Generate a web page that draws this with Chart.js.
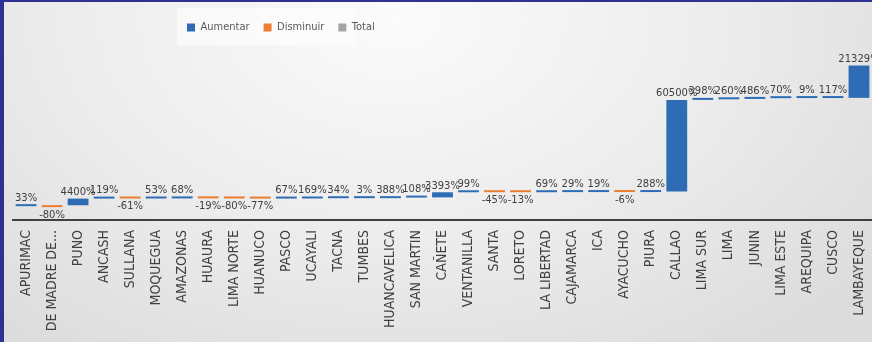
<!DOCTYPE html>
<html>
<head>
<meta charset="utf-8">
<script src="https://cdn.jsdelivr.net/npm/chart.js@4/dist/chart.umd.min.js"></script>
<style>
html, body { margin: 0; padding: 0; }
#wrap {
    position: relative; width: 872px; height: 342px; box-sizing: border-box;
    border-left: 4px solid #2e3192; border-top: 2px solid #2e3192;
    background: radial-gradient(ellipse 70% 120% at 45% 5%, #fbfbfb 0%, #ececec 55%, #dcdcdc 100%);
    overflow: hidden;
}
#wrap canvas { display: block; }
</style>
</head>
<body>
<div id="wrap"><canvas id="chart" width="868" height="340"></canvas></div>
<script>
// categorías (regiones)
const regions = ['APURIMAC', 'DE MADRE DE...', 'PUNO', 'ANCASH', 'SULLANA', 'MOQUEGUA', 'AMAZONAS',
    'HUAURA', 'LIMA NORTE', 'HUANUCO', 'PASCO', 'UCAYALI', 'TACNA', 'TUMBES', 'HUANCAVELICA',
    'SAN MARTIN', 'CAÑETE', 'VENTANILLA', 'SANTA', 'LORETO', 'LA LIBERTAD', 'CAJAMARCA', 'ICA',
    'AYACUCHO', 'PIURA', 'CALLAO', 'LIMA SUR', 'LIMA', 'JUNIN', 'LIMA ESTE', 'AREQUIPA', 'CUSCO',
    'LAMBAYEQUE'];

// variación de cada región (%)
const changes = [33, -80, 4400, 119, -61, 53, 68, -19, -80, -77, 67, 169, 34, 3, 388, 108,
    3393, 99, -45, -13, 69, 29, 19, -6, 288, 60500, 398, 260, 486, 70, 9, 117, 21329];

const legendNames = ['Aumentar', 'Disminuir', 'Total'];

const colorUp = '#2e6db5';
const colorDown = '#ed7d31';
const colorTotal = '#a5a5a5';

// barras flotantes de la cascada
const upData = [];
const downData = [];
const totalData = [];
let level = 0;
changes.forEach(function(v) {
    const start = level;
    level += v;
    if (v >= 0) {
        upData.push([start, level]);
        downData.push(null);
    } else {
        downData.push([start, level]);
        upData.push(null);
    }
    totalData.push(null);
});

// etiquetas de valor encima / debajo de cada barra
const valueLabels = {
    id: 'valueLabels',
    afterDatasetsDraw(chart) {
        const ctx = chart.ctx;
        ctx.save();
        ctx.font = '10px "DejaVu Sans"';
        ctx.fillStyle = '#404040';
        ctx.textAlign = 'center';
        [0, 1].forEach(function(di) {
            const meta = chart.getDatasetMeta(di);
            meta.data.forEach(function(bar, i) {
                if (!chart.data.datasets[di].data[i]) return;
                const text = changes[i] + '%';
                if (di === 0) {
                    ctx.textBaseline = 'bottom';
                    ctx.fillText(text, bar.x, Math.min(bar.y, bar.base) - 1);
                } else {
                    ctx.textBaseline = 'top';
                    ctx.fillText(text, bar.x, Math.max(bar.y, bar.base) + 3);
                }
            });
        });
        ctx.restore();
    }
};

// la leyenda va a la izquierda del centro, como en el original
const legendShift = {
    id: 'legendShift',
    afterLayout(chart) {
        const lg = chart.legend;
        lg.options.align = 'start';
        lg.left = 183 - lg.options.labels.padding;
    },
    beforeDraw(chart) {
        // fondo claro detrás de la leyenda
        const ctx = chart.ctx;
        ctx.save();
        ctx.fillStyle = 'rgba(255,255,255,0.55)';
        ctx.fillRect(173, 6, 178, 37);
        ctx.restore();
    }
};

const ctx = document.getElementById('chart').getContext('2d');
const chart = new Chart(ctx, {
    type: 'bar',
    data: {
        labels: regions,
        datasets: [
            { label: legendNames[0], data: upData, backgroundColor: colorUp },
            { label: legendNames[1], data: downData, backgroundColor: colorDown },
            { label: legendNames[2], data: totalData, backgroundColor: colorTotal }
        ]
    },
    options: {
        responsive: false,
        animation: false,
        layout: {
            padding: { left: 9, right: 0, top: 6, bottom: 0 }
        },
        datasets: {
            bar: {
                grouped: false,
                barPercentage: 0.8,
                categoryPercentage: 1,
                minBarLength: 2
            }
        },
        plugins: {
            tooltip: { enabled: false },
            legend: {
                position: 'top',
                labels: {
                    boxWidth: 8,
                    boxHeight: 8,
                    padding: 14,
                    color: '#595959',
                    font: { family: '"DejaVu Sans Condensed"', size: 11 }
                }
            }
        },
        scales: {
            x: {
                offset: true,
                grid: { display: false, drawTicks: false },
                border: { display: true, color: '#404040', width: 2 },
                ticks: {
                    autoSkip: false,
                    maxRotation: 90,
                    minRotation: 90,
                    padding: 10,
                    color: '#404040',
                    font: { family: '"Liberation Sans Narrow", "DejaVu Sans Condensed"', size: 14 }
                },
                afterFit: function(scale) {
                    scale.height = 122;
                    scale.paddingLeft = 0;
                    scale.paddingRight = 0;
                }
            },
            y: {
                display: false,
                min: -9775,
                max: 107000
            }
        }
    },
    plugins: [legendShift, valueLabels]
});
</script>
</body>
</html>
